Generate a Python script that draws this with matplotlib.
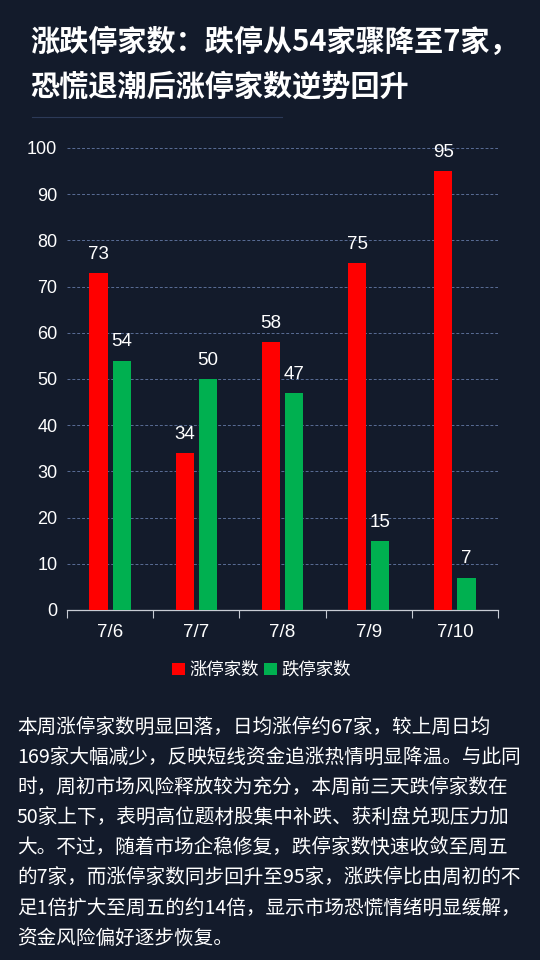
import matplotlib
matplotlib.use("Agg")
import matplotlib.pyplot as plt
import numpy as np

plt.rcParams['font.family'] = ['Noto Sans CJK SC', 'DejaVu Sans']

# --- data ---
dates = ["7/6", "7/7", "7/8", "7/9", "7/10"]
limit_up = [73, 34, 58, 75, 95]
limit_down = [54, 50, 47, 15, 7]
yticks = [0, 10, 20, 30, 40, 50, 60, 70, 80, 90, 100]

title_lines = ["涨跌停家数：跌停从54家骤降至7家，",
               "恐慌退潮后涨停家数逆势回升"]
body_lines = [
    "本周涨停家数明显回落，日均涨停约67家，较上周日均",
    "169家大幅减少，反映短线资金追涨热情明显降温。与此同",
    "时，周初市场风险释放较为充分，本周前三天跌停家数在",
    "50家上下，表明高位题材股集中补跌、获利盘兑现压力加",
    "大。不过，随着市场企稳修复，跌停家数快速收敛至周五",
    "的7家，而涨停家数同步回升至95家，涨跌停比由周初的不",
    "足1倍扩大至周五的约14倍，显示市场恐慌情绪明显缓解，",
    "资金风险偏好逐步恢复。",
]

BG = "#131b2b"
RED = "#ff0000"
GREEN = "#00b050"
NUM_FONT = ["Liberation Sans", "DejaVu Sans"]

fig = plt.figure(figsize=(5.4, 9.6), dpi=100)
fig.patch.set_facecolor(BG)

# title
fig.text(30/540, 1 - 42/960, title_lines[0], color="white", fontsize=21,
         fontweight="bold", va="center", ha="left")
fig.text(30/540, 1 - 86/960, title_lines[1], color="white", fontsize=21,
         fontweight="bold", va="center", ha="left")
fig.add_artist(plt.Line2D([32/540, 282/540], [1 - 117/960, 1 - 117/960],
                          color="#2c3a58", linewidth=0.8))

# chart
ax = fig.add_axes([67/540, 1 - 610/960, 431/540, 462/960])
ax.set_facecolor("none")
x = np.arange(len(dates))
w = 0.21
off = 0.135
b1 = ax.bar(x - off, limit_up, width=w, color=RED, zorder=3, label="涨停家数")
b2 = ax.bar(x + off, limit_down, width=w, color=GREEN, zorder=3, label="跌停家数")
for bars in (b1, b2):
    for r in bars:
        ax.text(r.get_x() + r.get_width() / 2, r.get_height() + 2.2,
                f"{int(r.get_height())}", ha="center", va="bottom",
                color="white", fontsize=13.5, family=NUM_FONT)

ax.set_xlim(-0.5, len(dates) - 0.5)
ax.set_ylim(0, 100)
ax.set_yticks(yticks)
ax.set_yticklabels([str(t) for t in yticks], color="white", fontsize=13,
                   family=NUM_FONT)
ax.set_xticks(x)
ax.set_xticklabels(dates, color="white", fontsize=13.5, family=NUM_FONT)
ax.tick_params(axis="y", length=0, pad=7)
ax.tick_params(axis="x", length=0, pad=10)
# boundary ticks on the category axis
ax.set_xticks(np.arange(-0.5, len(dates)), minor=True)
ax.tick_params(axis="x", which="minor", length=6, color="#c8ccd4", width=0.8)
ax.grid(axis="y", color="#5a6d96", linestyle=(0, (3, 2)), linewidth=0.7, zorder=0)
for s in ["left", "right", "top"]:
    ax.spines[s].set_visible(False)
ax.spines["bottom"].set_color("#c8ccd4")
ax.spines["bottom"].set_linewidth(0.9)

leg = fig.legend(handles=[b1, b2], loc="center", bbox_to_anchor=(0.484, 1 - 670/960),
                 ncol=2, frameon=False, fontsize=12.5, handlelength=0.75,
                 handleheight=0.75, handletextpad=0.25, columnspacing=0.3)
for t in leg.get_texts():
    t.set_color("white")

# body text
for i, line in enumerate(body_lines):
    fig.text(17/540, 1 - (728 + i * 30)/960, line, color="white",
             fontsize=14.1, fontweight="medium", va="center", ha="left")

fig.savefig("out.png", dpi=100, facecolor=BG)
